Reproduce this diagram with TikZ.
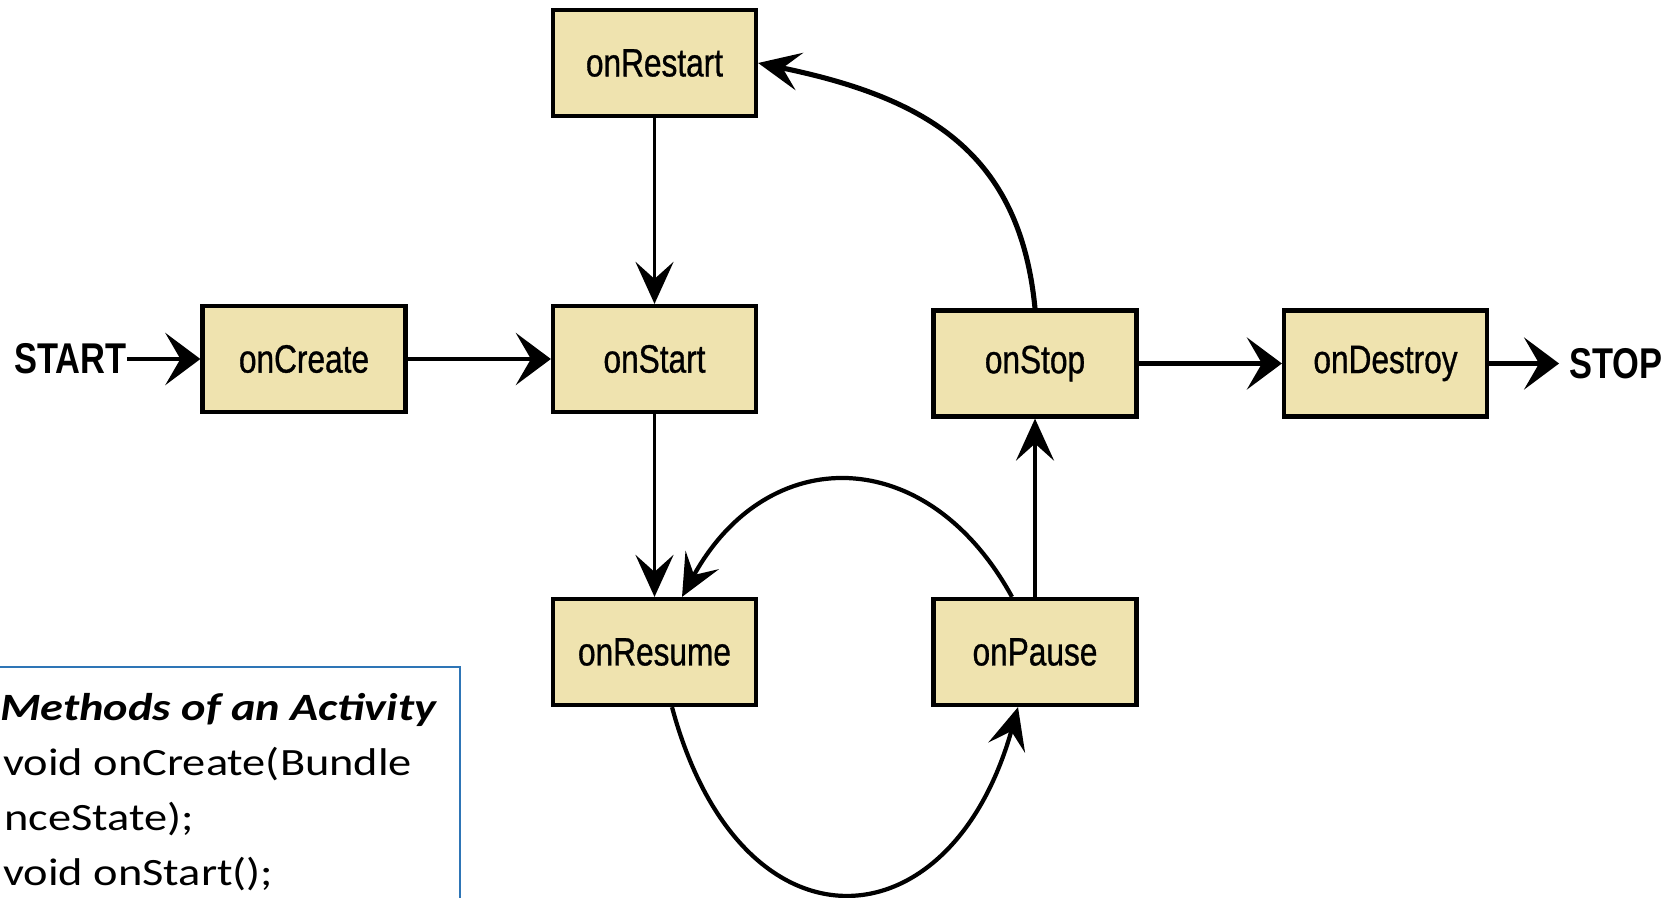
\documentclass[tikz,border=0pt]{standalone}
\usepackage{fontspec}
\usepackage{tikz}
\usetikzlibrary{arrows.meta}
\newfontfamily\condfont[FakeStretch=0.8,FakeBold=0.8]{Liberation Sans}
\newfontfamily\condboldfont[FakeStretch=0.8]{Liberation Sans Bold}
\newfontfamily\legendfont[FakeStretch=1.2]{Carlito}
\definecolor{boxtan}{RGB}{239,227,175}
\definecolor{legendblue}{RGB}{46,117,182}
\tikzset{
  state/.style={draw=black,line width=2.4pt,fill=boxtan,minimum width=4.06cm,minimum height=2.12cm,inner sep=0pt,font=\condfont\fontsize{22.5}{25}\selectfont},
  endlabel/.style={inner sep=0pt,font=\condboldfont\fontsize{24.5}{28}\selectfont},
  bigtip/.style={-{Stealth[length=0.7cm,width=1.04cm,inset=0.3cm]}},
  smalltip/.style={-{Stealth[length=0.84cm,width=0.76cm,inset=0.34cm]}},
  legend/.style={anchor=base west,inner sep=0pt,font=\legendfont\fontsize{22}{24}\selectfont}
}
\begin{document}
\begin{tikzpicture}
\useasboundingbox (0,0) rectangle (33.32,-17.96);
\clip (0,0) rectangle (33.32,-17.96);
%legend box, runs off the page at left and bottom
\draw[legendblue,line width=0.85pt] (-0.2,-13.34) rectangle (9.2,-18.3);
\node[legend] (legTitle) at (0,-14.4) {\bfseries\itshape Methods of an Activity};
\node[legend] (legCreate) at (0.06,-15.5) {void onCreate(Bundle};
\node[legend] (legState) at (0.08,-16.6) {nceState);};
\node[legend] (legStart) at (0.06,-17.7) {void onStart();};
%states
\node[state] (onRestart) at (13.09,-1.26) {onRestart};
\node[state] (onCreate) at (6.08,-7.18) {onCreate};
\node[state] (onStart) at (13.09,-7.18) {onStart};
\node[state] (onStop) at (20.70,-7.27) {onStop};
\node[state] (onDestroy) at (27.71,-7.27) {onDestroy};
\node[state] (onResume) at (13.09,-13.04) {onResume};
\node[state] (onPause) at (20.70,-13.04) {onPause};
%start and stop labels
\node[endlabel] (START) at (1.41,-7.18) {START};
\node[endlabel] (STOP) at (32.32,-7.27) {STOP};
%straight arrows
\draw[line width=2.7pt,bigtip] (START) -- (onCreate);
\draw[line width=2.7pt,bigtip] (onCreate) -- (onStart);
\draw[line width=2.7pt,bigtip] (onStop) -- (onDestroy);
\draw[line width=2.7pt,bigtip,shorten >=0.2cm] (onDestroy) -- (STOP);
\draw[line width=2.2pt,smalltip] (onRestart) -- (onStart);
\draw[line width=2.2pt,smalltip] (onStart) -- (onResume);
\draw[line width=2.2pt,smalltip] (onPause) -- (onStop);
%back to onRestart
\draw[line width=2.9pt,smalltip] (onStop.north) .. controls +(-0.3,3.1) and +(3.4,-0.7) .. (onRestart.east);
%loop between onResume and onPause
\draw[line width=2.4pt,smalltip] ([xshift=-0.46cm]onPause.north) .. controls +(-1.7,3.1) and +(1.7,3.1) .. ([xshift=0.55cm]onResume.north);
\draw[line width=2.4pt,smalltip] ([xshift=0.35cm]onResume.south) .. controls +(1.36,-5.06) and +(-1.36,-4.86) .. ([xshift=-0.34cm]onPause.south);
\end{tikzpicture}
\end{document}
